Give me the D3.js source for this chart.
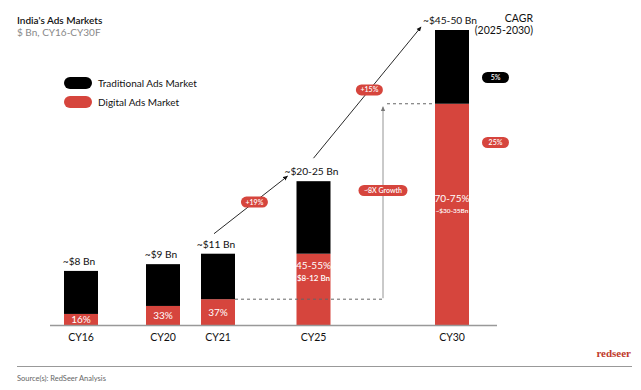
<!DOCTYPE html>
<meta charset="utf-8">
<style>
  body { margin:0; background:#fff; }
  text { font-family: Lato, "Open Sans", sans-serif; }
</style>
<svg width="641" height="390"></svg>
<script src="https://cdn.jsdelivr.net/npm/d3@7"></script>
<script>

// values in $ Bn
var categories = ["CY16", "CY20", "CY21", "CY25", "CY30"];
var digital = [1.8, 3.1, 4.2, 11.6, 36];
var traditional = [7.0, 6.8, 7.4, 11.8, 12];
var totalLabels = ["~$8 Bn", "~$9 Bn", "~$11 Bn", "~$20-25 Bn", "~$45-50 Bn"];
var shareLabels = ["16%", "33%", "37%", "45-55%", "70-75%"];
var digitalLabels = ["", "", "", "$8-12 Bn", "~$30-35Bn"];
var growthLabels = ["+19%", "+15%"];
var cagrLabels = ["5%", "25%"];

var red = "#d6453d";

var svg = d3.select("svg"),
    barW = 34;

var x = d3.scaleOrdinal()
    .domain(categories)
    .range([81, 163, 218, 313.5, 452]);

var y = d3.scaleLinear()
    .domain([0, 48])
    .range([325, 30]);

var data = categories.map(function(c, i) {
  return { cat: c, digital: digital[i], traditional: traditional[i], total: digital[i] + traditional[i] };
});

var defs = svg.append("defs");
function marker(id, color) {
  defs.append("marker")
      .attr("id", id)
      .attr("viewBox", "0 0 10 10")
      .attr("refX", 8).attr("refY", 5)
      .attr("markerWidth", 6).attr("markerHeight", 6)
      .attr("orient", "auto-start-reverse")
    .append("path")
      .attr("d", "M0,1L9,5L0,9z")
      .attr("fill", color);
}
marker("ah", "#111");
marker("ahg", "#777");

// title
svg.append("text").attr("x", 17).attr("y", 24).attr("font-size", 10).attr("font-weight", 600)
    .attr("fill", "#111").text("India's Ads Markets");
svg.append("text").attr("x", 17).attr("y", 36).attr("font-size", 10)
    .attr("fill", "#888").text("$ Bn, CY16-CY30F");

// legend
var legend = svg.append("g").selectAll("g")
    .data([["Traditional Ads Market", "#000"], ["Digital Ads Market", red]])
    .enter().append("g")
      .attr("transform", function(d, i) { return "translate(64," + (77 + i * 19) + ")"; });
legend.append("rect").attr("width", 28).attr("height", 12).attr("rx", 6).attr("fill", function(d) { return d[1]; });
legend.append("text").attr("x", 34).attr("y", 6).attr("dy", "0.35em").attr("font-size", 10)
    .attr("fill", "#111").text(function(d) { return d[0]; });

// stacked bars
var stack = d3.stack().keys(["digital", "traditional"])(data);
svg.append("g").selectAll("g")
  .data(stack)
  .enter().append("g")
    .attr("fill", function(d) { return d.key == "digital" ? red : "#000"; })
  .selectAll("rect")
  .data(function(d) { return d; })
  .enter().append("rect")
    .attr("x", function(d) { return x(d.data.cat) - barW / 2; })
    .attr("y", function(d) { return y(d[1]); })
    .attr("width", barW)
    .attr("height", function(d) { return y(d[0]) - y(d[1]); });

// baseline
svg.append("line").attr("x1", 50).attr("x2", 497).attr("y1", y(0) + 0.5).attr("y2", y(0) + 0.5)
    .attr("stroke", "#999").attr("stroke-width", 1.5);

// category labels
svg.append("g").selectAll("text").data(data).enter().append("text")
    .attr("x", function(d) { return x(d.cat); })
    .attr("y", y(0) + 16)
    .attr("text-anchor", "middle").attr("font-size", 10.5).attr("fill", "#111")
    .text(function(d) { return d.cat; });

// total labels
svg.append("g").selectAll("text").data(data).enter().append("text")
    .attr("x", function(d, i) { return x(d.cat) - 2; })
    .attr("y", function(d) { return y(d.total) - 6; })
    .attr("text-anchor", "middle").attr("font-size", 10.2).attr("fill", "#111")
    .text(function(d, i) { return totalLabels[i]; });

// share labels inside red
var shareY = function(d, i) {
  if (i < 3) return (y(0) + y(d.digital)) / 2 + 4;
  if (i == 3) return y(d.digital) + 15;
  return y(d.digital) + 98;
};
svg.append("g").selectAll("text").data(data).enter().append("text")
    .attr("x", function(d) { return x(d.cat); })
    .attr("y", shareY)
    .attr("text-anchor", "middle").attr("font-size", 10).attr("fill", "#fff")
    .text(function(d, i) { return shareLabels[i]; });
svg.append("g").selectAll("text").data(data).enter().append("text")
    .attr("x", function(d) { return x(d.cat); })
    .attr("y", function(d, i) { return shareY(d, i) + (i == 3 ? 12 : 11); })
    .attr("text-anchor", "middle").attr("font-weight", 600)
    .attr("font-size", function(d, i) { return i == 3 ? 8 : 6.5; })
    .attr("fill", "#fff")
    .text(function(d, i) { return digitalLabels[i]; });

// growth arrows between totals
var d21 = data[2], d25 = data[3], d30 = data[4];
var arrows = [
  [x("CY21") - 4, y(d21.total) - 20, x("CY25") - 26, y(d25.total) - 5],
  [x("CY25"), y(d25.total) - 23, x("CY30") - 31, y(d30.total) - 3]
];
arrows.forEach(function(a, i) {
  svg.append("line").attr("x1", a[0]).attr("y1", a[1]).attr("x2", a[2]).attr("y2", a[3])
      .attr("stroke", "#111").attr("stroke-width", 0.9).attr("marker-end", "url(#ah)");
  var t = i == 0 ? 0.55 : 0.52;
  pill(a[0] + (a[2] - a[0]) * t, a[1] + (a[3] - a[1]) * t, 27, growthLabels[i], red);
});

function pill(cx, cy, w, label, fill) {
  svg.append("rect").attr("x", cx - w / 2).attr("y", cy - 5.5).attr("width", w).attr("height", 11)
      .attr("rx", 5.5).attr("fill", fill);
  svg.append("text").attr("x", cx).attr("y", cy).attr("dy", "0.35em").attr("text-anchor", "middle")
      .attr("font-size", 7).attr("font-weight", 600).attr("fill", "#fff").text(label);
}

// ~8X growth of digital
var gx = 383;
svg.append("line").attr("x1", x("CY21") + barW / 2).attr("x2", gx)
    .attr("y1", y(d21.digital)).attr("y2", y(d21.digital))
    .attr("stroke", "#666").attr("stroke-dasharray", "3,3");
svg.append("line").attr("x1", gx + 4).attr("x2", x("CY30") - barW / 2)
    .attr("y1", y(d30.digital)).attr("y2", y(d30.digital))
    .attr("stroke", "#666").attr("stroke-dasharray", "3,3");
svg.append("line").attr("x1", gx).attr("x2", gx)
    .attr("y1", y(d21.digital) - 1).attr("y2", y(d30.digital) + 3)
    .attr("stroke", "#888").attr("stroke-width", 0.9).attr("marker-end", "url(#ahg)");
pill(gx, 190.5, 49, "~8X Growth", red);

// CAGR
svg.append("text").attr("x", 533).attr("y", 22).attr("text-anchor", "end").attr("font-size", 10.5)
    .attr("fill", "#111").text("CAGR");
svg.append("text").attr("x", 533).attr("y", 34).attr("text-anchor", "end").attr("font-size", 10.5)
    .attr("fill", "#111").text("(2025-2030)");
pill(495.5, 77.5, 27, cagrLabels[0], "#000");
pill(495.5, 142.5, 27, cagrLabels[1], red);

// footer
svg.append("text").attr("x", 631).attr("y", 357).attr("text-anchor", "end")
    .attr("font-weight", "bold")
    .attr("font-size", 11).attr("fill", "#c0392b").style("font-family", "'Liberation Serif', serif")
    .text("redseer");
svg.append("line").attr("x1", 17).attr("x2", 632).attr("y1", 366.5).attr("y2", 366.5)
    .attr("stroke", "#999").attr("stroke-width", 1);
svg.append("text").attr("x", 17).attr("y", 381).attr("font-size", 7.5).attr("fill", "#666")
    .text("Source(s): RedSeer Analysis");

</script>
